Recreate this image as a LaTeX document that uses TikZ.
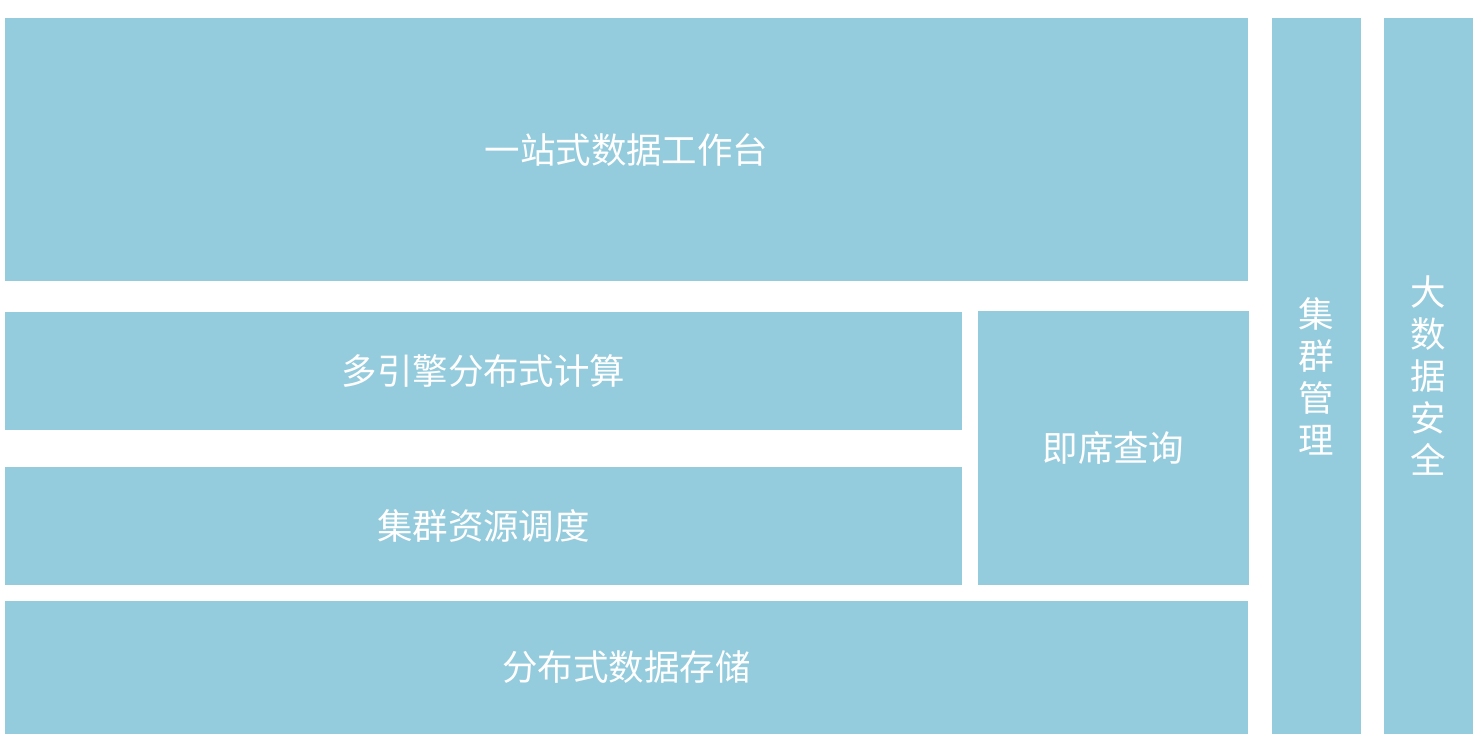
\documentclass[tikz,border=0pt]{standalone}
\usepackage{fontspec}
\newfontfamily\cjk{Noto Sans CJK SC}
\definecolor{boxblue}{HTML}{94CCDD}
\tikzset{
  blk/.style={fill=boxblue, draw=none},
  lbl/.style={text=white, font=\cjk\fontsize{26.6}{31.5}\selectfont, inner sep=0pt, align=center}
}
\begin{document}
\begin{tikzpicture}[x=0.75pt, y=-0.75pt]
\useasboundingbox (0,0) rectangle (1481,741);
% boxes
\path[blk] (5,18) rectangle (1248,281);
\path[blk] (5,312) rectangle (962,430);
\path[blk] (5,467) rectangle (962,585);
\path[blk] (978,311) rectangle (1249,585);
\path[blk] (5,601) rectangle (1248,734);
\path[blk] (1272,18) rectangle (1361,734);
\path[blk] (1384,18) rectangle (1473,734);
% labels
\node[lbl] (platform) at (626.5,150) {一站式数据工作台};
\node[lbl] (compute) at (483.5,371) {多引擎分布式计算};
\node[lbl] (sched) at (483.5,526) {集群资源调度};
\node[lbl] (adhoc) at (1113.5,448) {即席查询};
\node[lbl] (storage) at (626.5,667.5) {分布式数据存储};
\node[lbl] (mgmt) at (1316.5,376) {集\\群\\管\\理};
\node[lbl] (sec) at (1428.5,376) {大\\数\\据\\安\\全};
\end{tikzpicture}
\end{document}
